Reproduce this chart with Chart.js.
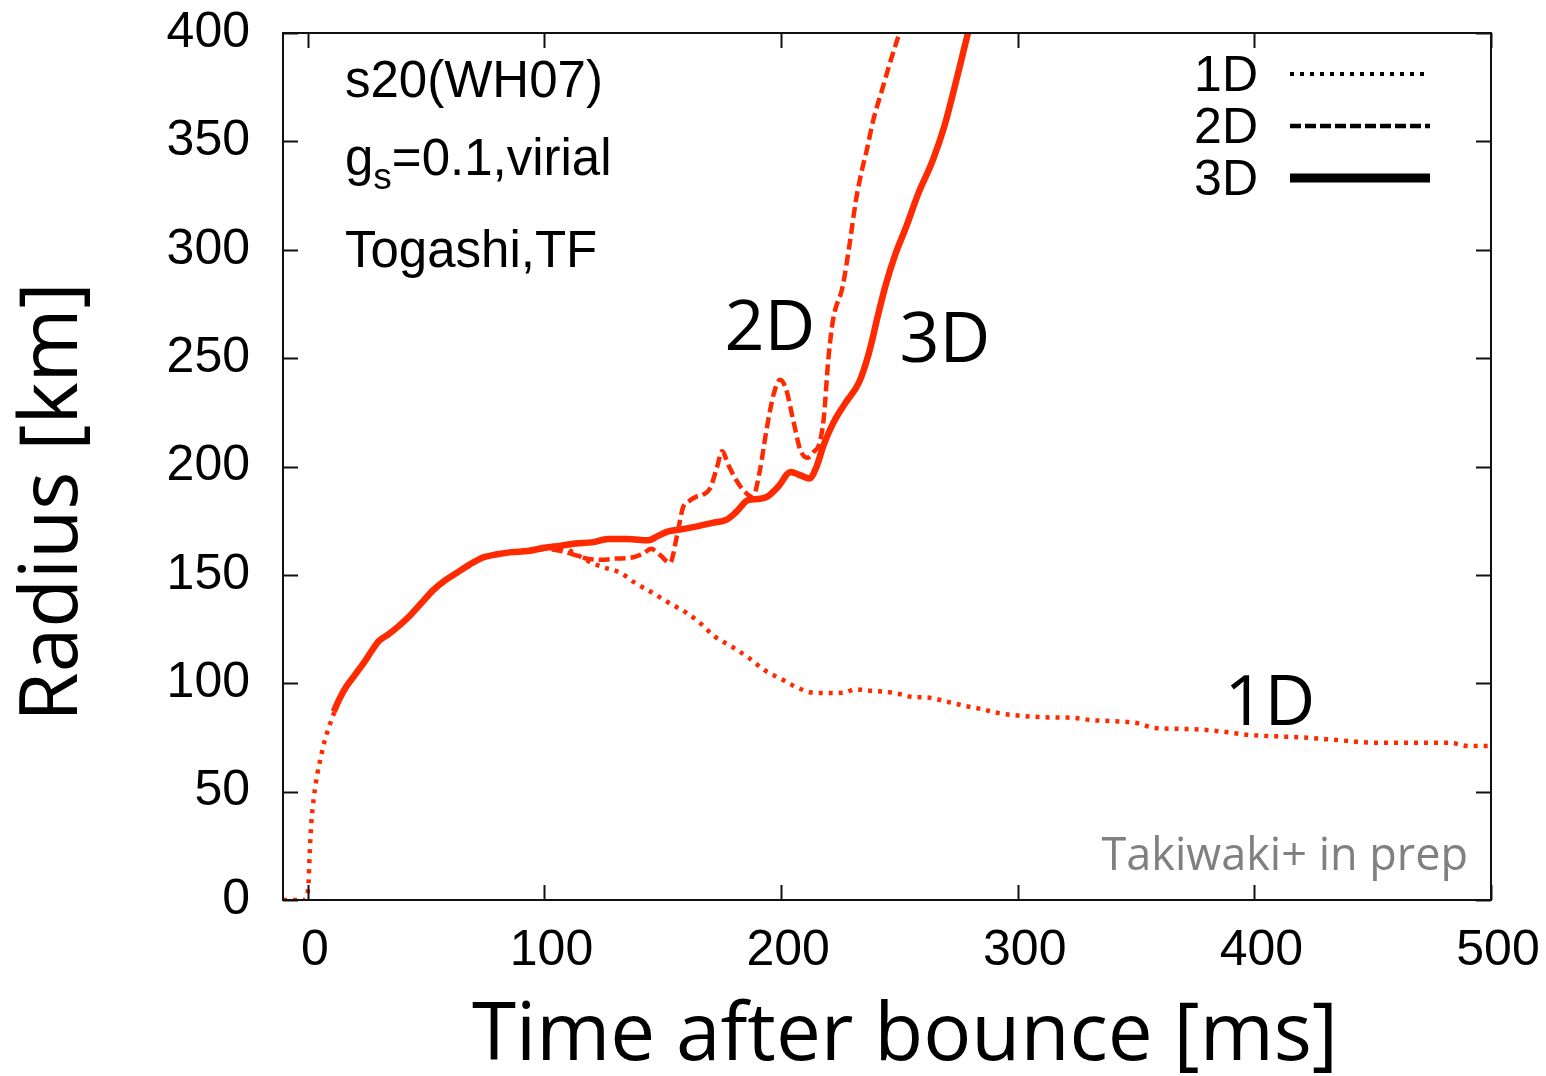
<!DOCTYPE html>
<html>
<head>
<meta charset="utf-8">
<script src="https://cdn.jsdelivr.net/npm/chart.js@4.4.1/dist/chart.umd.min.js"></script>
<style>
  html, body { margin: 0; padding: 0; background: #fff; }
  #wrap { width: 1546px; height: 1076px; }
</style>
</head>
<body>
<div id="wrap"><canvas id="radiusChart" width="1546" height="1076"></canvas></div>
<script>
// time after bounce [ms] and shock radius [km]
var t1D = [-10.5, -1, 0.3, 0.8, 1.5, 2.5, 4, 5.5, 7, 9, 11, 13, 16, 20, 24, 27, 30, 34, 38, 43, 48, 53, 58, 63, 68, 74, 80, 86, 93, 100, 107,
           110, 115, 119, 125, 132, 138, 146, 152, 160, 165, 172, 179, 186, 193, 200, 205, 209, 213, 220, 227, 231, 238, 244, 250,
           257, 261, 270, 278, 285, 292, 299, 306, 315, 323, 331, 341, 351, 358, 368, 379, 388, 397, 409, 420, 435, 450, 465, 482, 491, 500];
var r1D = [0, 0, 8, 22, 36, 47, 58, 66, 73, 80, 86, 92, 98, 104, 110, 115, 119.5, 122.5, 126, 131, 137, 143, 147.5, 151, 154.5, 158, 159.5, 160.5, 161, 162, 162.5,
           161.5, 158.5, 156, 153.5, 151, 146.5, 141.5, 137.5, 132.5, 128.5, 121.5, 117, 112, 106, 102, 99, 97, 95.7, 95.5, 95.7, 97.2, 96.5, 96.1, 95,
           93.5, 93.5, 91.5, 89.5, 88, 86.2, 85.2, 84.6, 84.2, 84.1, 83, 82.5, 81.5, 79.3, 79, 78.5, 77.5, 76.2, 75.5, 75, 73.8, 72.6, 72.6, 72.6, 71, 71];

var t2D = [11, 13, 16, 20, 24, 27, 30, 34, 38, 43, 48, 53, 58, 63, 68, 74, 80, 86, 93, 100, 107,
           112, 118, 124, 130, 137, 142, 145, 149, 153, 156, 158.5, 161, 164, 167, 170, 173, 175, 178, 182, 186, 188,
           191, 194, 197, 199.5, 202, 205, 208, 211, 214, 216, 218, 220, 222, 226, 229, 231.5, 234, 236, 239, 243, 246.5, 250, 252];
var r2D = [87, 92, 98, 104, 110, 115, 119.5, 122.5, 126, 131, 137, 143, 147.5, 151, 154.5, 158, 159.5, 160.5, 161, 162, 161,
           159.5, 157.5, 157, 157.5, 158, 160, 162, 159, 155.5, 168, 181, 184, 186, 187, 190, 200, 207, 200, 192, 187, 186,
           198, 218, 234, 240, 236, 222, 208, 204, 207, 210, 222, 250, 268, 283, 303, 322, 336, 345, 360, 375, 388, 400, 407];

var t3D = [11, 13, 16, 20, 24, 27, 30, 34, 38, 43, 48, 53, 58, 63, 68, 74, 80, 86, 93, 100, 107,
           113, 120, 127, 135, 144, 148, 152, 158, 165, 171, 177, 181, 186, 190, 194, 199, 204, 208, 212, 215, 218,
           222, 227, 233, 237, 241, 244, 248, 253, 258, 264, 269, 274, 279, 282];
var r3D = [87, 92, 98, 104, 110, 115, 119.5, 122.5, 126, 131, 137, 143, 147.5, 151, 154.5, 158, 159.5, 160.5, 161, 162.5, 163.5,
           164.5, 165, 166.5, 166.5, 166, 168, 170, 171, 172.5, 174, 175.5, 179, 184.5, 185, 186, 191, 197.5, 196, 194.5, 200, 210,
           220, 229, 239, 252, 270, 283, 297, 311, 326, 341, 357, 378, 400, 412];

var xTicks = [0, 100, 200, 300, 400, 500];
var yTicks = [0, 50, 100, 150, 200, 250, 300, 350, 400];

var red = '#ff2a00';

function pts(xs, ys) {
    return xs.map(function (x, i) { return { x: x, y: ys[i] }; });
}

var framePlugin = {
    id: 'frame',
    afterDraw: function (chart) {
        var ctx = chart.ctx;
        var a = chart.chartArea;
        var sx = chart.scales.x, sy = chart.scales.y;
        ctx.save();
        ctx.strokeStyle = '#111';
        ctx.lineWidth = 2;
        ctx.strokeRect(a.left, a.top, a.right - a.left, a.bottom - a.top);
        ctx.beginPath();
        xTicks.forEach(function (v) {
            var px = Math.round(sx.getPixelForValue(v)) + 0.5;
            ctx.moveTo(px, a.bottom); ctx.lineTo(px, a.bottom - 15);
            ctx.moveTo(px, a.top); ctx.lineTo(px, a.top + 15);
        });
        yTicks.forEach(function (v) {
            var py = Math.round(sy.getPixelForValue(v)) + 0.5;
            ctx.moveTo(a.left, py); ctx.lineTo(a.left + 15, py);
            ctx.moveTo(a.right, py); ctx.lineTo(a.right - 15, py);
        });
        ctx.stroke();

        // axis titles
        ctx.fillStyle = '#000';
        ctx.font = '80px "Open Sans"';
        ctx.textAlign = 'center';
        ctx.textBaseline = 'alphabetic';
        ctx.fillText('Time after bounce [ms]', 905, 1060);
        ctx.save();
        ctx.translate(77, 502);
        ctx.rotate(-Math.PI / 2);
        ctx.fillText('Radius [km]', 0, 0);
        ctx.restore();

        // model description
        ctx.textAlign = 'left';
        ctx.font = '51px "Liberation Sans"';
        ctx.fillText('s20(WH07)', 345, 97);
        ctx.fillText('g', 345, 175);
        var gw = ctx.measureText('g').width;
        ctx.font = '37px "Liberation Sans"';
        ctx.fillText('s', 345 + gw, 189);
        var sw = ctx.measureText('s').width;
        ctx.font = '51px "Liberation Sans"';
        ctx.fillText('=0.1,virial', 345 + gw + sw, 175);
        ctx.fillText('Togashi,TF', 345, 267);

        // legend
        ctx.textAlign = 'right';
        ctx.font = '50px "Liberation Sans"';
        var legend = [['1D', 91, [4, 6], 4], ['2D', 143, [11, 4], 4.5], ['3D', 195, [], 9]];
        legend.forEach(function (l) {
            ctx.fillText(l[0], 1258, l[1]);
            ctx.beginPath();
            ctx.setLineDash(l[2]);
            ctx.lineWidth = l[3];
            ctx.strokeStyle = '#000';
            ctx.moveTo(1290, l[1] - 17);
            ctx.lineTo(1430, l[1] - 17);
            ctx.stroke();
        });
        ctx.setLineDash([]);

        // curve labels
        ctx.textAlign = 'center';
        ctx.font = '70px "Open Sans"';
        ctx.fillText('2D', 770, 350);
        ctx.fillText('3D', 945, 362);
        ctx.fillText('1D', 1270, 725);

        ctx.textAlign = 'right';
        ctx.fillStyle = '#808080';
        ctx.font = '45px "Open Sans"';
        ctx.fillText('Takiwaki+ in prep', 1468, 870);
        ctx.restore();
    }
};

var ctx1 = document.getElementById('radiusChart').getContext('2d');
var radiusChart = new Chart(ctx1, {
    type: 'scatter',
    data: {
        datasets: [{
            label: '1D',
            data: pts(t1D, r1D),
            showLine: true,
            borderColor: red,
            borderWidth: 4.5,
            borderDash: [4, 6],
            pointRadius: 0,
            cubicInterpolationMode: 'monotone',
            order: 3
        }, {
            label: '2D',
            data: pts(t2D, r2D),
            showLine: true,
            borderColor: red,
            borderWidth: 4.5,
            borderDash: [11, 5],
            pointRadius: 0,
            cubicInterpolationMode: 'monotone',
            order: 2
        }, {
            label: '3D',
            data: pts(t3D, r3D),
            showLine: true,
            borderColor: red,
            borderWidth: 6.5,
            pointRadius: 0,
            cubicInterpolationMode: 'monotone',
            order: 1
        }]
    },
    options: {
        responsive: false,
        animation: false,
        layout: { padding: { top: 33, right: 55, left: 0, bottom: 0 } },
        plugins: { legend: { display: false }, tooltip: { enabled: false } },
        scales: {
            x: {
                type: 'linear',
                min: -10.5,
                max: 500,
                afterBuildTicks: function (s) { s.ticks = xTicks.map(function (v) { return { value: v }; }); },
                afterFit: function (s) { s.height = 176; s.paddingLeft = 0; s.paddingRight = 0; },
                grid: { display: false, drawTicks: false },
                border: { display: false },
                ticks: {
                    color: '#000',
                    font: { family: 'Liberation Sans', size: 50 },
                    padding: 21,
                    labelOffset: 7,
                    maxRotation: 0
                }
            },
            y: {
                min: 0,
                max: 400,
                afterBuildTicks: function (s) { s.ticks = yTicks.map(function (v) { return { value: v }; }); },
                afterFit: function (s) { s.width = 283; s.paddingTop = 0; s.paddingBottom = 0; },
                grid: { display: false, drawTicks: false },
                border: { display: false },
                ticks: {
                    color: '#000',
                    font: { family: 'Liberation Sans', size: 50 },
                    padding: 33
                }
            }
        }
    },
    plugins: [framePlugin]
});
</script>
</body>
</html>
